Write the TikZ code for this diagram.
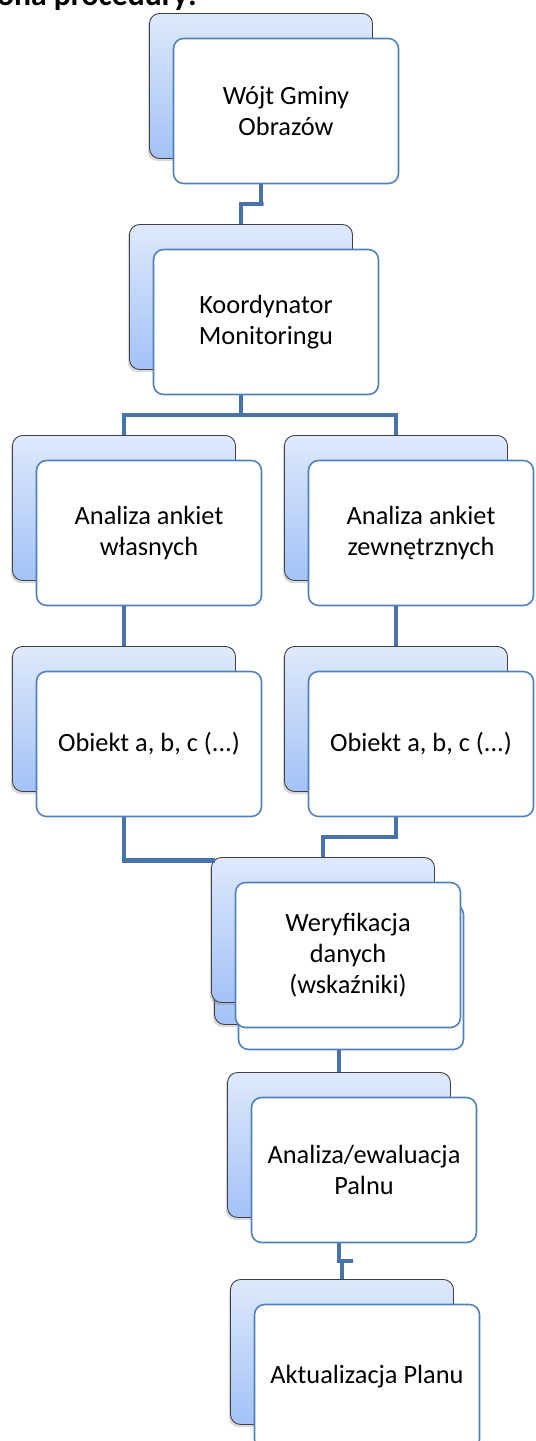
\documentclass[tikz,border=0pt]{standalone}
\usepackage{fontspec}
\setmainfont{Carlito}
\usetikzlibrary{calc,shadows}
\definecolor{ramka}{RGB}{79,129,189}
\definecolor{linia}{RGB}{72,114,172}
\definecolor{jasny}{RGB}{222,233,251}
\definecolor{ciemny}{RGB}{163,194,247}
\tikzset{
  tlo/.style={draw=black!75, line width=0.5pt, rounded corners=0.2cm,
    top color=jasny, bottom color=ciemny,
    minimum width=4.46cm, minimum height=2.9cm,
    drop shadow={shadow xshift=-1pt, shadow yshift=-1.5pt, opacity=0.3}},
  karta/.style={draw=ramka, line width=0.9pt, fill=white, rounded corners=0.2cm,
    minimum width=4.5cm, minimum height=2.9cm, align=center,
    font=\fontsize{15}{17.5}\selectfont},
  polaczenie/.style={draw=linia, line width=2.4pt}
}
\begin{document}
\begin{tikzpicture}[x=0.02cm, y=-0.02cm]
  \useasboundingbox (0,0) rectangle (536,1441);
  \clip (0,0) rectangle (536,1441);
  \node[anchor=base east, font=\fontsize{18}{22}\selectfont\bfseries] (tytul) at (203,5) {ona procedury:};

  \node[tlo] (wojtB) at (261,86) {};
  \node[karta] (wojt) at (286,111) {Wójt Gminy\\Obrazów};

  \node[tlo] (koordB) at (241,297) {};
  \node[karta] (koord) at (266,322) {Koordynator\\Monitoringu};

  \node[tlo] (ankWlB) at (124,508) {};
  \node[karta] (ankWl) at (149,533) {Analiza ankiet\\własnych};
  \node[tlo] (ankZewB) at (396,508) {};
  \node[karta] (ankZew) at (421,533) {Analiza ankiet\\zewnętrznych};

  \node[tlo] (obiekt1B) at (124,719) {};
  \node[karta] (obiekt1) at (149,744) {Obiekt a, b, c (...)};
  \node[tlo] (obiekt2B) at (396,719) {};
  \node[karta] (obiekt2) at (421,744) {Obiekt a, b, c (...)};

  % weryfikacja - podwojna karta
  \node[tlo] (weryfB2) at (326,952) {};
  \node[karta] (weryf2) at (351,977) {};
  \node[tlo] (weryfB) at (323,930) {};
  \node[karta] (weryf) at (348,955) {Weryfikacja\\danych\\(wskaźniki)};

  \node[tlo] (ewalB) at (339,1145) {};
  \node[karta] (ewal) at (364,1170) {Analiza/ewaluacja\\Palnu};

  \node[tlo] (aktualB) at (342,1352) {};
  \node[karta] (aktual) at (367,1377) {Aktualizacja Planu};

  % polaczenia
  \draw[polaczenie] (wojtB |- wojt.south) |- ($(wojt.south)!.5!(koordB.north)$) -| (koordB.north);
  \coordinate (rozdz) at (koordB |- 0,415);
  \draw[polaczenie] (koordB |- koord.south) -- (rozdz);
  \draw[polaczenie] (ankWlB.north) |- (rozdz) -| (ankZewB.north);
  \draw[polaczenie] (ankWlB |- ankWl.south) -- (obiekt1B.north);
  \draw[polaczenie] (ankZewB |- ankZew.south) -- (obiekt2B.north);
  \draw[polaczenie] (obiekt1B |- obiekt1.south) |- ([xshift=2pt,yshift=-2pt]weryfB.north west);
  \draw[polaczenie] (obiekt2B |- obiekt2.south) |- ($(obiekt2.south)!.5!(weryfB.north)$) -| (weryfB.north);
  \draw[polaczenie] (ewalB |- weryf2.south) -- (ewalB.north);
  \draw[polaczenie] (ewalB |- ewal.south) |- ($(ewal.south)!.5!(aktualB.north)$) -| (aktualB.north);
\end{tikzpicture}
\end{document}
